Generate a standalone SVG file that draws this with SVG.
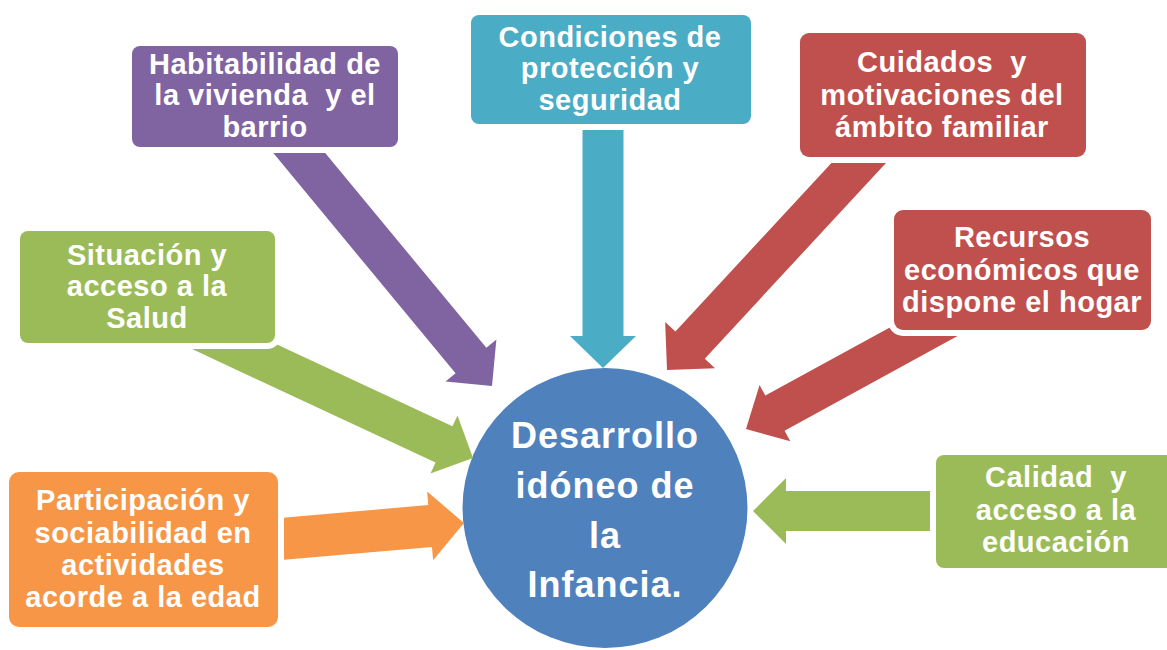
<svg xmlns="http://www.w3.org/2000/svg" width="1167" height="650" viewBox="0 0 1167 650">
<defs>
<style>
.box{stroke:#ffffff;stroke-width:12;paint-order:stroke fill;}
.bt{font-family:"Liberation Sans",Arial,sans-serif;font-weight:bold;font-size:29px;fill:#ffffff;text-anchor:middle;letter-spacing:0.5px;white-space:pre;}
.ct{font-family:"Liberation Sans",Arial,sans-serif;font-weight:bold;font-size:36px;fill:#ffffff;text-anchor:middle;letter-spacing:1px;}
</style>
</defs>
<rect width="1167" height="650" fill="#ffffff"/>
<g id="center">
<ellipse cx="605" cy="508" rx="142.5" ry="140" fill="#4F81BD"/>
<text class="ct"><tspan x="605" y="448">Desarrollo</tspan><tspan x="605" y="498">idóneo de</tspan><tspan x="605" y="548">la</tspan><tspan x="605" y="597">Infancia.</tspan></text>
</g>
<g id="connectors">
<polygon transform="translate(492,386) rotate(50.4)" points="0,0 -33,-33 -33,-20 -340,-20 -340,20 -33,20 -33,33" fill="#8064A2"/>
<polygon transform="translate(603,368) rotate(90)" points="0,0 -32,-33 -32,-20.5 -248,-20.5 -248,20.5 -32,20.5 -32,33" fill="#4BACC6"/>
<polygon transform="translate(667,370) rotate(132.8)" points="0,0 -34,-34 -34,-20 -330,-20 -330,20 -34,20 -34,34" fill="#C0504D"/>
<polygon transform="translate(746,429) rotate(151.3)" points="0,0 -33,-32 -33,-20 -250,-20 -250,20 -33,20 -33,32" fill="#C0504D"/>
<polygon transform="translate(473,458) rotate(25)" points="0,0 -32,-32 -32,-20 -310,-20 -310,20 -32,20 -32,32" fill="#9BBB59"/>
<polygon transform="translate(464,523) rotate(-5)" points="0,0 -34,-34.5 -34,-21 -200,-21 -200,21 -34,21 -34,34.5" fill="#F79646"/>
<polygon transform="translate(753,511) rotate(180)" points="0,0 -33,-33 -33,-20 -200,-20 -200,20 -33,20 -33,33" fill="#9BBB59"/>
</g>
<g id="habitabilidad">
<rect class="box" x="132" y="46" width="266" height="101" rx="8" fill="#8064A2"/>
<text class="bt"><tspan x="265" y="74">Habitabilidad de</tspan><tspan x="265" y="105">la vivienda  y el</tspan><tspan x="265" y="137">barrio</tspan></text>
</g>
<g id="situacion">
<rect class="box" x="20" y="231" width="255" height="112" rx="8" fill="#9BBB59"/>
<text class="bt"><tspan x="147" y="265">Situación y</tspan><tspan x="147" y="296">acceso a la</tspan><tspan x="147" y="328">Salud</tspan></text>
</g>
<g id="participacion">
<rect class="box" x="9" y="472" width="269" height="155" rx="10" fill="#F79646"/>
<text class="bt"><tspan x="143" y="510">Participación y</tspan><tspan x="143" y="543">sociabilidad en</tspan><tspan x="143" y="575">actividades</tspan><tspan x="143" y="607">acorde a la edad</tspan></text>
</g>
<g id="condiciones">
<rect class="box" x="471" y="15" width="280" height="109" rx="8" fill="#4BACC6"/>
<text class="bt"><tspan x="610" y="47">Condiciones de</tspan><tspan x="610" y="78">protección y</tspan><tspan x="610" y="110">seguridad</tspan></text>
</g>
<g id="cuidados">
<rect class="box" x="800" y="33" width="286" height="124" rx="9" fill="#C0504D"/>
<text class="bt"><tspan x="942" y="72">Cuidados  y</tspan><tspan x="942" y="105">motivaciones del</tspan><tspan x="942" y="137">ámbito familiar</tspan></text>
</g>
<g id="recursos">
<rect class="box" x="894" y="210" width="257" height="120" rx="9" fill="#C0504D"/>
<text class="bt"><tspan x="1022" y="247">Recursos</tspan><tspan x="1022" y="280">económicos que</tspan><tspan x="1022" y="312">dispone el hogar</tspan></text>
</g>
<g id="calidad">
<rect class="box" x="936" y="455" width="240" height="113" rx="8" fill="#9BBB59"/>
<text class="bt"><tspan x="1056" y="487">Calidad  y</tspan><tspan x="1056" y="520">acceso a la</tspan><tspan x="1056" y="552">educación</tspan></text>
</g>
</svg>
